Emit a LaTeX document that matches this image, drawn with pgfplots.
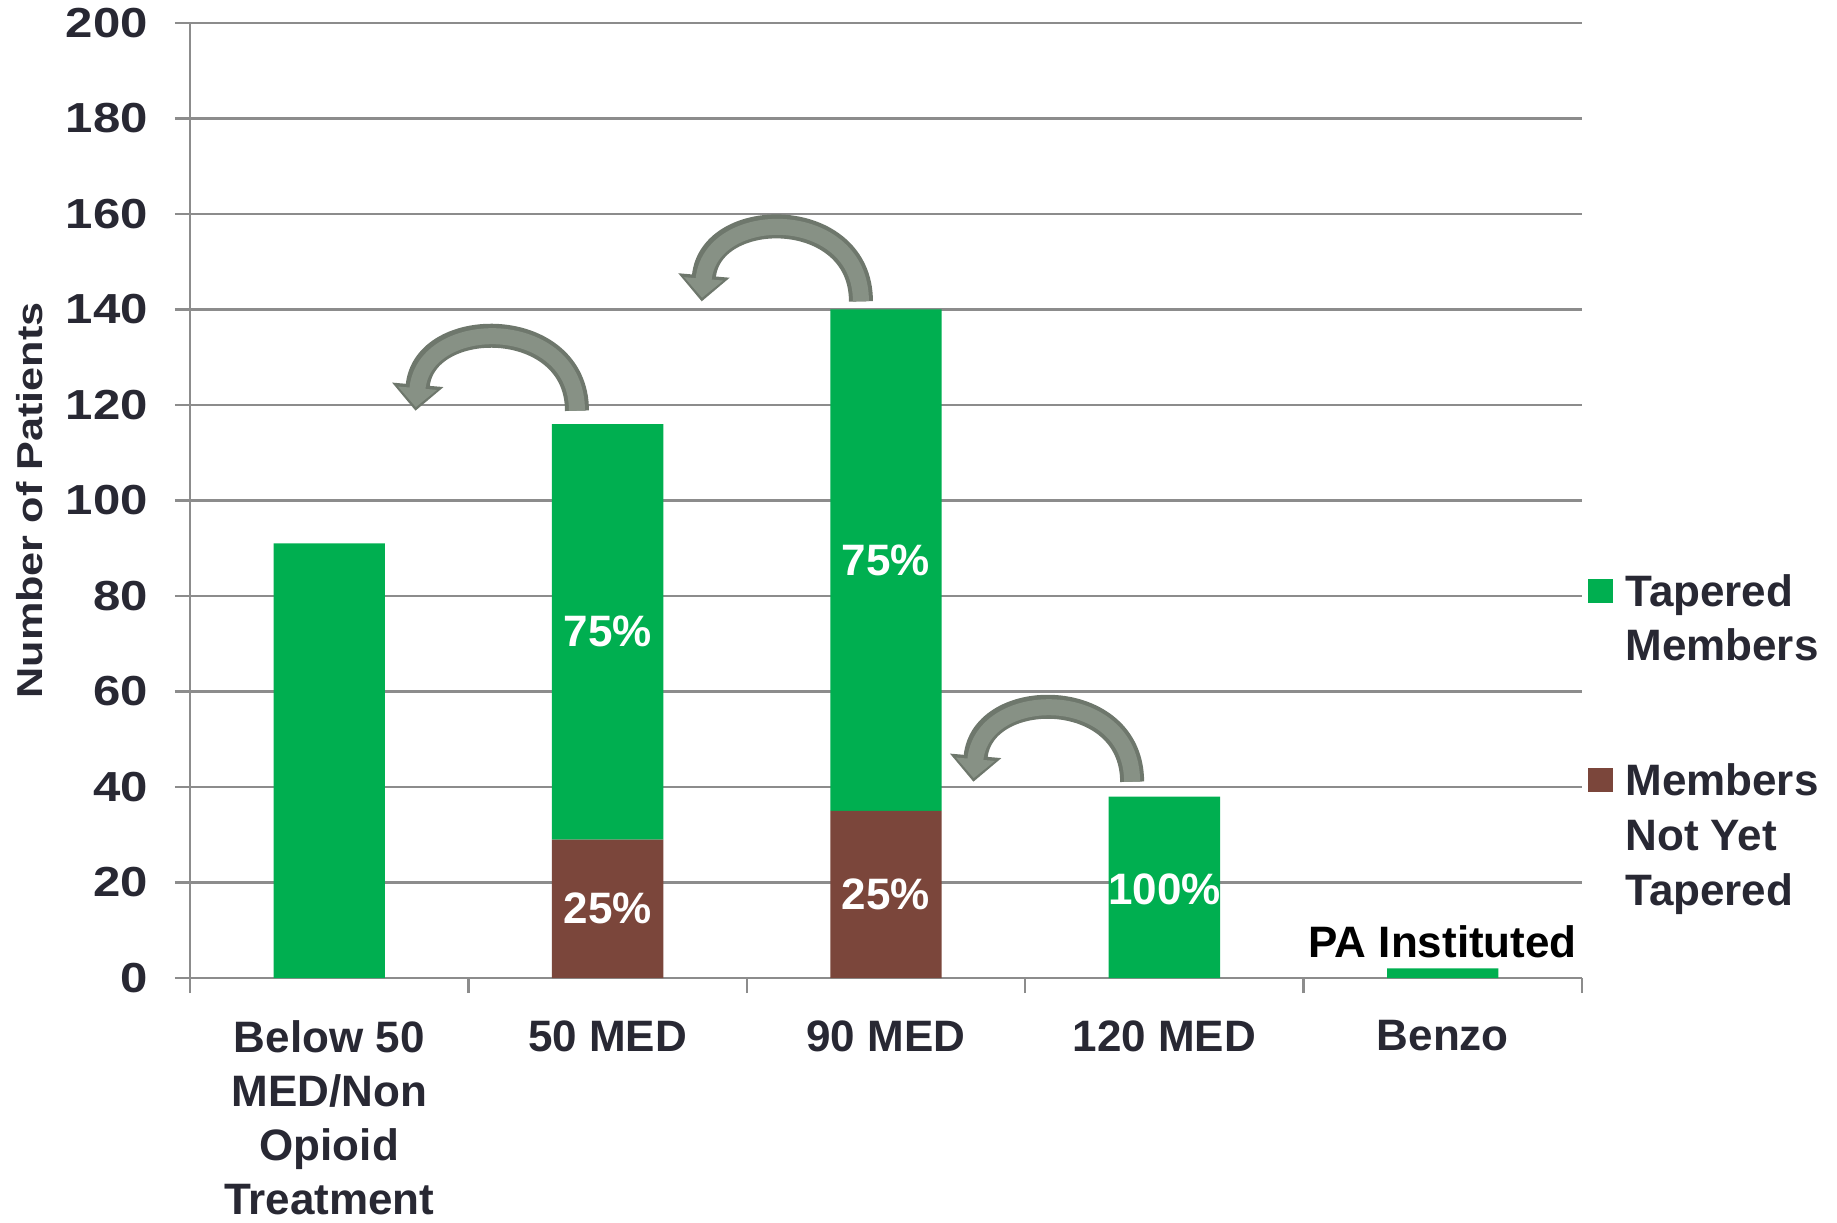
\documentclass[border=0pt]{standalone}
\usepackage{pgfplots}
\pgfplotsset{compat=1.18}
\usepackage{fontspec}
\setmainfont{Liberation Sans}
\newfontfamily\wideff{Liberation Sans}[FakeStretch=1.17]
\newfontfamily\ylabff{Liberation Sans}[FakeStretch=1.2]
\usetikzlibrary{arrows.meta}
\definecolor{greenc}{HTML}{00AF50}
\definecolor{brownc}{HTML}{7B463B}
\definecolor{gridc}{HTML}{8C8C8C}
\definecolor{textc}{HTML}{282833}
\definecolor{arrowout}{HTML}{6E776C}
\definecolor{arrowin}{HTML}{879185}
% #1 name, #2 tail x, #3 base y, #4 tip x, #5 control x near tip, #6 control y
\newcommand{\arrowpts}[6]{%
  \coordinate (#1a) at (axis cs:#2,#3);
  \coordinate (#1b) at (axis cs:#2,#6);
  \coordinate (#1c) at (axis cs:#5,#6);
  \coordinate (#1d) at (axis cs:#4,#3);
}
\newcommand{\curvedarrow}[1]{%
  \draw[arrowout, line width=12pt, -{Triangle[width=25pt,length=13pt]}]
    (#1a) .. controls (#1b) and (#1c) .. (#1d);
  \draw[arrowin, line width=8pt, shorten >=1.8pt, -{Triangle[width=19pt,length=9.5pt]}]
    (#1a) .. controls (#1b) and (#1c) .. (#1d);
}
\newcommand{\ml}[1]{\begin{tabular}[t]{@{}l@{}}#1\end{tabular}}

\begin{document}
\begin{tikzpicture}
\begin{axis}[
  at={(0,0)}, anchor=south west,
  scale only axis, width=696pt, height=477.5pt,
  ybar stacked, bar width=0.4,
  xmin=-0.5, xmax=4.5, ymin=0, ymax=200,
  axis lines*=left,
  axis line style={gridc, line width=1.2pt},
  ymajorgrids, grid style={gridc, line width=1.2pt},
  ytick={0,20,...,200},
  xtick={-0.5,0.5,...,4.5},
  x tick label as interval,
  xticklabels={{Below 50\\MED/Non\\Opioid\\Treatment},{50 MED},{90 MED},{120 MED},{Benzo},{}},
  tick align=outside,
  major tick length=7.5pt,
  tick style={gridc, line width=1.2pt},
  /pgf/number format/assume math mode=true,
  yticklabel style={font=\wideff\bfseries\fontsize{21}{25}\selectfont, text=textc, anchor=east, inner sep=0pt, xshift=-13.4pt},
  xticklabel style={font=\bfseries\fontsize{22}{27}\selectfont, text=textc, align=center, anchor=north, inner sep=0pt, yshift=-13.5pt},
  ylabel={Number of Patients},
  ylabel style={at={(axis description cs:0,0.5)}, anchor=center, yshift=80pt, font=\ylabff\bfseries\fontsize{18}{22}\selectfont, text=textc},
  reverse legend,
  legend style={at={(rel axis cs:1,0.4338)}, anchor=north west, xshift=3.2pt, draw=none, fill=none, inner sep=0pt, outer sep=0pt,
    font=\bfseries\fontsize{22}{27.4}\selectfont, text=textc, row sep=70pt, column sep=4.3pt,
    cells={anchor=base west, inner sep=0pt}},
  legend image code/.code={\fill[#1] (0pt,1.5pt) rectangle (12.2pt,13.7pt);},
]
\addplot[fill=brownc, draw=none] coordinates {(0,0) (1,29) (2,35) (3,0) (4,0)};
\addlegendentry{\ml{Members\\Not Yet\\Tapered}}
\addplot[fill=greenc, draw=none] coordinates {(0,91) (1,87) (2,105) (3,38) (4,2)};
\addlegendentry{\ml{Tapered\\Members}}

\coordinate (l1) at (axis cs:1,72.5);
\coordinate (l2) at (axis cs:1,14.5);
\coordinate (l3) at (axis cs:2,87.5);
\coordinate (l4) at (axis cs:2,17.5);
\coordinate (l5) at (axis cs:3,18.5);
\coordinate (l6) at (axis cs:4,7.5);
\arrowpts{A}{0.890}{118.8}{0.310}{0.340}{138.8}
\arrowpts{B}{1.910}{141.7}{1.338}{1.368}{161.7}
\arrowpts{C}{2.884}{41.1}{2.314}{2.344}{61.1}
\end{axis}
\begin{scope}[every node/.style={font=\bfseries\fontsize{22}{26}\selectfont, text=white}]
\node at (l1) {75\%};
\node at (l2) {25\%};
\node at (l3) {75\%};
\node at (l4) {25\%};
\node at (l5) {100\%};
\node[text=black] at (l6) {PA Instituted};
\end{scope}
\curvedarrow{A}
\curvedarrow{B}
\curvedarrow{C}
\pgfresetboundingbox
\path[use as bounding box] (-95pt,-122pt) rectangle (823.5pt,489pt);
\end{tikzpicture}
\end{document}
